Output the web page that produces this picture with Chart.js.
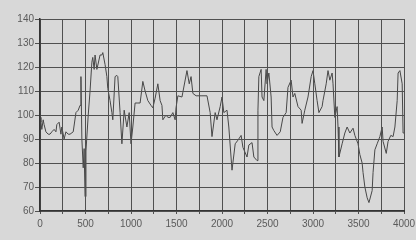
<!DOCTYPE html>
<html>
<head>
<meta charset="utf-8">
<script src="https://cdn.jsdelivr.net/npm/chart.js@4"></script>
<style>
  html, body { margin: 0; padding: 0; background: #d8d8d8; }
  #wrap { width: 416px; height: 240px; }
</style>
</head>
<body>
<div id="wrap"><canvas id="chart" width="416" height="240"></canvas></div>
<script>
// sample positions (x) and readings (y)
const xValues = [
  0, 10, 20, 35, 45, 65, 90, 110, 130, 155, 175, 185, 210, 230, 240, 265, 285, 310, 330, 365,
  395, 420, 440, 450, 460, 475, 485, 495, 505, 530, 550, 570, 580, 595, 605, 625, 660, 680, 690, 715,
  735, 745, 770, 790, 800, 825, 845, 855, 880, 900, 925, 955, 980, 1000, 1020, 1045, 1075, 1100, 1130, 1155,
  1185, 1220, 1240, 1265, 1295, 1320, 1340, 1350, 1385, 1405, 1430, 1460, 1485, 1495, 1515, 1560, 1570, 1615, 1640, 1660,
  1680, 1715, 1780, 1835, 1870, 1890, 1925, 1945, 1980, 2000, 2020, 2055, 2075, 2110, 2145, 2175, 2210, 2230, 2275, 2295,
  2330, 2350, 2385, 2395, 2405, 2430, 2440, 2460, 2485, 2495, 2515, 2540, 2550, 2570, 2605, 2640, 2670, 2705, 2725, 2760,
  2780, 2800, 2835, 2870, 2880, 2910, 2945, 2980, 3000, 3020, 3045, 3065, 3100, 3110, 3145, 3165, 3185, 3210, 3220, 3240,
  3265, 3275, 3285, 3320, 3350, 3375, 3405, 3440, 3460, 3495, 3515, 3540, 3550, 3570, 3595, 3615, 3650, 3660, 3680, 3705,
  3735, 3760, 3770, 3805, 3825, 3855, 3880, 3900, 3925, 3935, 3955, 3980, 3990, 4000
];
const yValues = [
  99, 97, 94, 98, 96, 93, 92, 92, 93, 94, 93, 96, 97, 92, 95, 90, 93, 92, 92, 93,
  101, 102, 104, 116, 90, 78, 86, 66, 85, 100, 110, 122, 124, 119, 125, 119, 125, 125, 126, 121,
  116, 111, 106, 101, 98, 116, 116.5, 116, 101, 88, 102, 95, 101, 88, 95, 105, 105, 105, 114, 110,
  106, 104, 103, 107, 113, 106, 104, 98, 100, 99, 99, 101, 98, 103, 108, 107.5, 109.5, 118.5, 113, 116,
  109, 108, 108, 108, 101, 91, 101, 98, 103.5, 107.5, 101, 102, 95, 77, 88, 89.5, 91.5, 86.5, 82.5, 87.5,
  88.5, 82.5, 81, 102, 116, 119, 107.5, 106, 119, 113, 117.5, 107.5, 95, 93.5, 91.5, 93, 99, 101, 111.5, 114.5,
  107.5, 109, 103.5, 102, 96.5, 102, 107.5, 116, 118.5, 113, 106, 101, 103.5, 106, 113, 118.5, 114.5, 117.5, 113, 99,
  103.5, 95, 82.5, 88, 92.5, 95, 92.5, 94.5, 91.5, 88, 83.5, 80, 76, 70, 65.5, 63.5, 68.5, 76, 85.5, 88,
  91, 95, 89, 84, 89, 91.5, 91, 95, 106, 117.5, 118.5, 113, 92.5, 92.5
];
const xTickStep = 250;
const xLabelStep = 500;
const yMin = 60, yMax = 140, yStep = 10;

const points = xValues.map((x, i) => ({ x: x, y: yValues[i] }));
const tickFont = { family: "'Liberation Sans', Arial, sans-serif", size: 10 };

new Chart(document.getElementById('chart'), {
  type: 'line',
  data: {
    datasets: [{
      data: points,
      borderColor: '#474747',
      borderWidth: 1,
      pointRadius: 0,
      tension: 0,
      fill: false
    }]
  },
  options: {
    responsive: false,
    animation: false,
    layout: { padding: { top: 19, right: 12, left: 0, bottom: 0 } },
    plugins: { legend: { display: false }, tooltip: { enabled: false } },
    scales: {
      x: {
        type: 'linear',
        min: 0,
        max: 4000,
        // grid drawn above the dataset layer
        grid: { color: '#505050', lineWidth: 1, tickLength: 3, z: 1 },
        border: { color: '#333333', width: 2, z: 1 },
        ticks: {
          stepSize: xTickStep,
          color: '#5a5a5a',
          font: tickFont,
          padding: 4,
          maxRotation: 0,
          autoSkip: false,
          callback: v => (v % xLabelStep === 0 ? String(v) : '')
        },
        afterFit: s => { s.height = 29; s.paddingLeft = 0; s.paddingRight = 0; }
      },
      y: {
        min: yMin,
        max: yMax,
        grid: { color: '#505050', lineWidth: 1, tickLength: 5, z: 1 },
        border: { color: '#333333', width: 1.5, z: 1 },
        ticks: { stepSize: yStep, color: '#5a5a5a', font: tickFont, padding: 1 },
        afterFit: s => { s.width = 40; }
      }
    }
  }
});
</script>
</body>
</html>
